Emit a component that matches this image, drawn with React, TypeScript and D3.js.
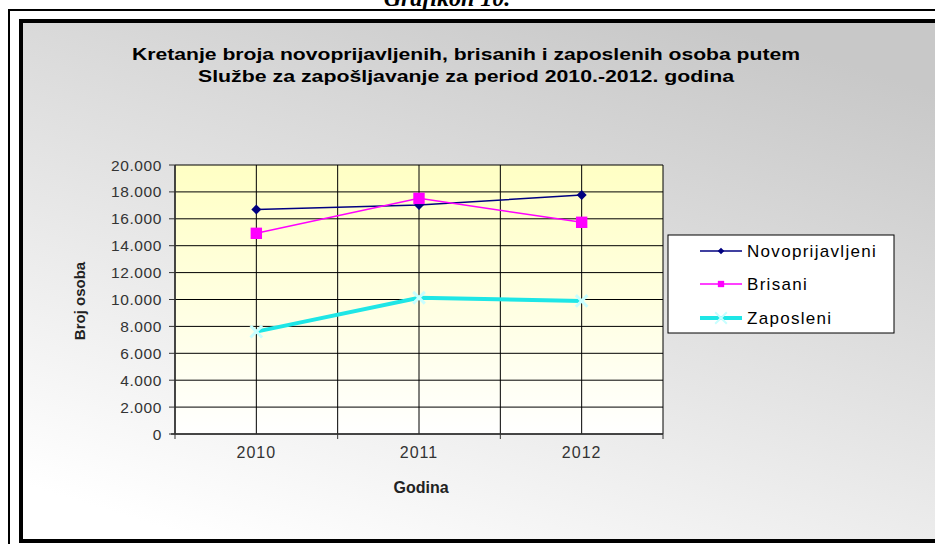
import React from "react";
import * as d3 from "d3";

const years = ["2010", "2011", "2012"];
const novoprijavljeni = [16700, 17030, 17770];
const brisani = [14920, 17520, 15740];
const zaposleni = [7610, 10130, 9890];
const yTicks = [0, 2000, 4000, 6000, 8000, 10000, 12000, 14000, 16000, 18000, 20000];
const titleLines = [
  "Kretanje broja novoprijavljenih, brisanih i zaposlenih osoba putem",
  "Službe za zapošljavanje za period 2010.-2012. godina",
];
const seriesNames = ["Novoprijavljeni", "Brisani", "Zaposleni"];

const W = 935;
const H = 544;
const plot = { left: 175, right: 663, top: 165, bottom: 434 };

const fmt = (v: number) => (v === 0 ? "0" : d3.format(",")(v).replace(/,/g, "."));

export default function App() {
  const band = d3.scaleBand<string>().domain(years).range([plot.left, plot.right]).padding(0);
  const x = (yr: string) => (band(yr) as number) + band.bandwidth() / 2;
  const y = d3.scaleLinear().domain([0, 20000]).range([plot.bottom, plot.top]);
  const line = d3
    .line<[string, number]>()
    .x((d) => x(d[0]))
    .y((d) => y(d[1]));

  const series = [
    { name: seriesNames[0], values: novoprijavljeni, color: "#000080", width: 1.5, marker: "diamond" },
    { name: seriesNames[1], values: brisani, color: "#ff00ff", width: 1.5, marker: "square" },
    { name: seriesNames[2], values: zaposleni, color: "#1ee6e6", width: 4, marker: "star" },
  ];

  const diamond = d3.symbol().type(d3.symbolSquare).size(50)();
  const square = d3.symbol().type(d3.symbolSquare).size(130)();
  const star = d3.symbol().type(d3.symbolX).size(90)();
  const diamondSmall = d3.symbol().type(d3.symbolSquare).size(22)();
  const squareSmall = d3.symbol().type(d3.symbolSquare).size(40)();

  const boundaries = [plot.left, ...years.map((yr) => (band(yr) as number) + band.bandwidth())];

  const drawMarker = (m: string, color: string, cx: number, cy: number, small = false, key?: any) => {
    if (m === "diamond")
      return (
        <path key={key} d={small ? diamondSmall : diamond} transform={`translate(${cx},${cy}) rotate(45)`} fill={color} />
      );
    if (m === "square")
      return <path key={key} d={small ? squareSmall : square} transform={`translate(${cx},${cy})`} fill={color} />;
    return (
      <path
        key={key}
        d={star}
        transform={`translate(${cx},${cy})`}
        fill="none"
        stroke="#c8ffff"
        strokeWidth={small ? 2 : 3}
      />
    );
  };

  const legendY = [251, 284, 318];
  const titleWidths = [668, 536];

  return (
    <svg
      width={W}
      height={H}
      style={{ position: "absolute", left: 0, top: 0, background: "#fff" }}
      fontFamily="'Liberation Sans', Arial, sans-serif"
    >
      <defs>
        <linearGradient id="chartBg" x1="0.75" y1="0" x2="0.2" y2="1">
          <stop offset="0" stopColor="#c8c8c8" />
          <stop offset="0.55" stopColor="#e6e6e6" />
          <stop offset="1" stopColor="#ffffff" />
        </linearGradient>
        <linearGradient id="plotBg" x1="0" y1="0" x2="0" y2="1">
          <stop offset="0" stopColor="#ffffc4" />
          <stop offset="0.5" stopColor="#ffffe0" />
          <stop offset="1" stopColor="#ffffff" />
        </linearGradient>
      </defs>

      {/* caption, cut at the top edge as in the source page */}
      <text
        x={447}
        y={6}
        textAnchor="middle"
        fontFamily="'Liberation Serif', 'Times New Roman', serif"
        fontStyle="italic"
        fontWeight="bold"
        fontSize={24}
        fill="#000"
      >
        Grafikon 10.
      </text>

      {/* outer thin frame */}
      <line x1={9} y1={10} x2={W} y2={10} stroke="#000" strokeWidth={2} />
      <line x1={9} y1={9} x2={9} y2={H} stroke="#000" strokeWidth={2} />

      {/* chart area */}
      <rect x={21} y={21} width={W - 21 + 5} height={541 - 21} fill="url(#chartBg)" stroke="#000" strokeWidth={4} />

      {/* title */}
      {titleLines.map((t, i) => (
        <text
          key={i}
          x={466}
          y={60 + i * 22}
          textAnchor="middle"
          fontWeight="bold"
          fontSize={17}
          textLength={titleWidths[i]}
          lengthAdjust="spacingAndGlyphs"
          fill="#000"
        >
          {t}
        </text>
      ))}

      {/* plot area */}
      <rect x={plot.left} y={plot.top} width={plot.right - plot.left} height={plot.bottom - plot.top} fill="url(#plotBg)" />

      {/* horizontal gridlines */}
      {yTicks.map((t) => (
        <line key={t} x1={plot.left} x2={plot.right} y1={y(t)} y2={y(t)} stroke="#000" strokeWidth={1} />
      ))}
      {/* vertical gridlines at categories and boundaries */}
      {years.map((yr) => (
        <line key={"c" + yr} x1={x(yr)} x2={x(yr)} y1={plot.top} y2={plot.bottom} stroke="#000" strokeWidth={1} />
      ))}
      {boundaries.map((b, i) => (
        <line key={"b" + i} x1={b} x2={b} y1={plot.top} y2={plot.bottom} stroke="#000" strokeWidth={1} />
      ))}

      {/* axes */}
      <line x1={plot.left} x2={plot.left} y1={plot.top} y2={plot.bottom} stroke="#333" strokeWidth={1.5} />
      <line x1={plot.left - 4} x2={plot.right} y1={plot.bottom} y2={plot.bottom} stroke="#333" strokeWidth={1.5} />
      {yTicks.map((t) => (
        <g key={"yt" + t}>
          <line x1={plot.left - 6} x2={plot.left} y1={y(t)} y2={y(t)} stroke="#333" strokeWidth={1} />
          <text x={plot.left - 13} y={y(t) + 5.5} textAnchor="end" fontSize={15.5} letterSpacing={0.6} fill="#333">
            {fmt(t)}
          </text>
        </g>
      ))}
      {boundaries.map((b, i) => (
        <line key={"xt" + i} x1={b} x2={b} y1={plot.bottom} y2={plot.bottom + 5} stroke="#333" strokeWidth={1} />
      ))}
      {years.map((yr) => (
        <text key={"xl" + yr} x={x(yr)} y={458} textAnchor="middle" fontSize={16} letterSpacing={1} fill="#333">
          {yr}
        </text>
      ))}

      {/* axis titles */}
      <text x={421} y={493} textAnchor="middle" fontWeight="bold" fontSize={16} fill="#222">
        Godina
      </text>
      <text
        transform={`translate(85,301) rotate(-90)`}
        textAnchor="middle"
        fontWeight="bold"
        fontSize={15}
        fill="#222"
      >
        Broj osoba
      </text>

      {/* series */}
      {series.map((s) => (
        <g key={s.name}>
          <path
            d={line(years.map((yr, i) => [yr, s.values[i]]) as [string, number][]) as string}
            fill="none"
            stroke={s.color}
            strokeWidth={s.width}
          />
          {years.map((yr, i) => drawMarker(s.marker, s.color, x(yr), y(s.values[i]), false, yr))}
        </g>
      ))}

      {/* legend */}
      <rect x={668} y={235} width={226} height={98} fill="#fff" stroke="#000" strokeWidth={1} />
      {series.map((s, i) => (
        <g key={"lg" + s.name}>
          <line x1={700} x2={742} y1={legendY[i]} y2={legendY[i]} stroke={s.color} strokeWidth={s.width === 4 ? 4 : 1.5} />
          {drawMarker(s.marker, s.color, 721, legendY[i], true)}
          <text x={747} y={legendY[i] + 6} fontSize={17} letterSpacing={1.3} fill="#000">
            {s.name}
          </text>
        </g>
      ))}
    </svg>
  );
}
